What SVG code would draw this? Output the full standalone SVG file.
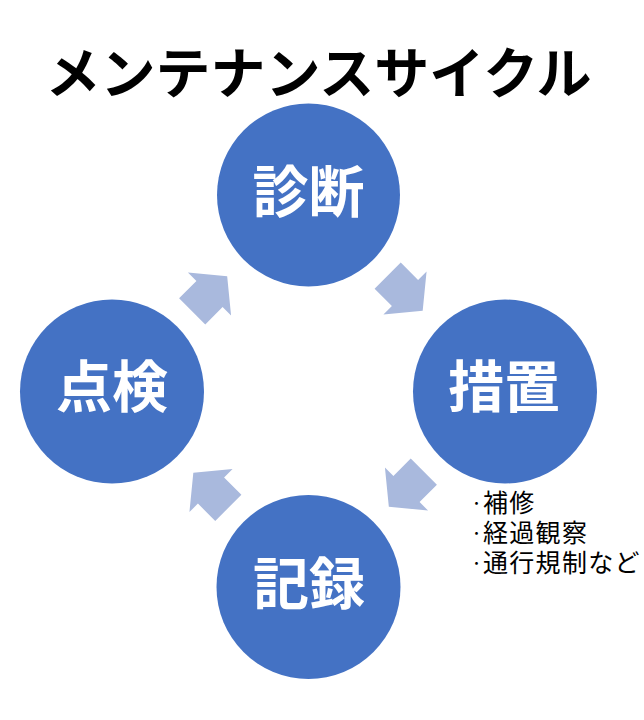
<svg xmlns="http://www.w3.org/2000/svg" width="644" height="720" viewBox="0 0 644 720">
  <style>
    .node circle { fill: #4472C4; }
    .node text { fill: #FFFFFF; font-family: "Noto Sans CJK JP", "Noto Sans", sans-serif; font-weight: bold; font-size: 56px; text-anchor: middle; }
    .title { fill: #000000; font-family: "Noto Sans CJK JP", "Noto Sans", sans-serif; font-weight: bold; font-size: 55px; text-anchor: middle; }
    .note { fill: #000000; font-family: "Liberation Sans", "Noto Sans CJK JP", sans-serif; font-size: 25px; letter-spacing: 1.3px; }
    .dot { font-size: 13px; letter-spacing: 0; }
    .arrow { fill: #A9B9DD; }
  </style>
  <defs>
    <path id="blockArrow" d="M-24.5,-18.5 L0,-18.5 L0,-30.5 L25,0 L0,30.5 L0,18.5 L-24.5,18.5 Z"/>
  </defs>
  <rect x="0" y="0" width="644" height="720" fill="#FFFFFF"/>
  <text class="title" x="318.5" y="93">メンテナンスサイクル</text>

  <g id="connectors">
    <use href="#blockArrow" class="arrow" transform="translate(209.5,294) rotate(-45)"/>
    <use href="#blockArrow" class="arrow" transform="translate(405,293) rotate(45)"/>
    <use href="#blockArrow" class="arrow" transform="translate(406.5,489) rotate(135)"/>
    <use href="#blockArrow" class="arrow" transform="translate(211,490.5) rotate(-135)"/>
  </g>

  <g id="node-shindan" class="node">
    <circle cx="308.5" cy="195" r="91.5"/>
    <text x="308.5" y="212">診断</text>
  </g>
  <g id="node-sochi" class="node">
    <circle cx="505" cy="391.5" r="92"/>
    <text x="504" y="407">措置</text>
  </g>
  <g id="node-tenken" class="node">
    <circle cx="112" cy="391.5" r="92"/>
    <text x="112" y="407">点検</text>
  </g>
  <g id="node-kiroku" class="node">
    <circle cx="308.5" cy="587" r="92"/>
    <text x="309" y="604">記録</text>
  </g>

  <g id="note-sochi">
    <text class="note" y="512"><tspan class="dot" x="470" dy="-4">・</tspan><tspan x="483" dy="4">補修</tspan></text>
    <text class="note" y="542"><tspan class="dot" x="470" dy="-4">・</tspan><tspan x="483" dy="4">経過観察</tspan></text>
    <text class="note" y="572"><tspan class="dot" x="470" dy="-4">・</tspan><tspan x="483" dy="4">通行規制など</tspan></text>
  </g>
</svg>
